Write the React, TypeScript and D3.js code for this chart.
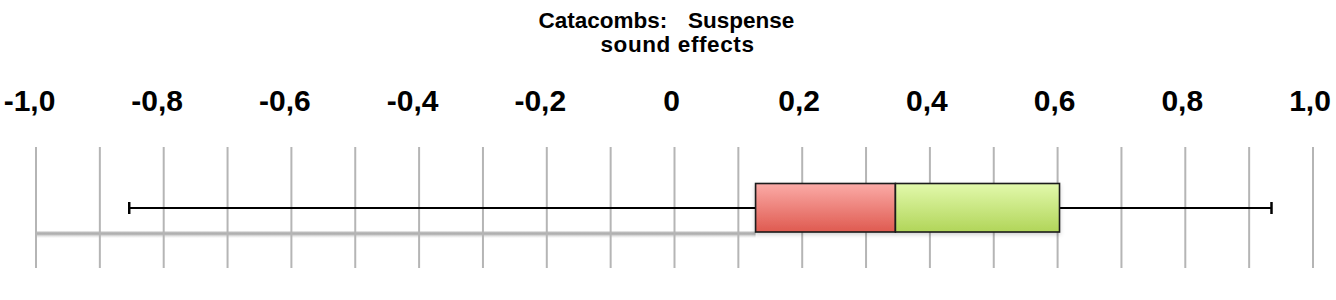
import React from "react";
import * as d3 from "d3";

const titleLine1 = ["Catacombs:", "Suspense"];
const titleLine2 = "sound effects";
const gridValues = d3.range(-10, 11).map((i) => i / 10);
const labelValues = [-1, -0.8, -0.6, -0.4, -0.2, 0, 0.2, 0.4, 0.6, 0.8, 1];
const labelTexts = ["-1,0", "-0,8", "-0,6", "-0,4", "-0,2", "0", "0,2", "0,4", "0,6", "0,8", "1,0"];
const boxStats = { min: -0.854, q1: 0.127, median: 0.346, q3: 0.603, max: 0.935 };

const W = 1336;
const H = 300;

export default function App() {
  const x = d3.scaleLinear().domain([-1, 1]).range([36, 1313]);
  const yMid = 208;
  const boxTop = 183.5;
  const boxBot = 232;
  const font = "'Liberation Sans', Arial, Helvetica, sans-serif";
  return (
    <svg width={W} height={H} style={{ position: "absolute", left: 0, top: 0 }}>
      <defs>
        <linearGradient id="redG" x1="0" y1="0" x2="0" y2="1">
          <stop offset="0" stopColor="#fbaba7" />
          <stop offset="1" stopColor="#df5a50" />
        </linearGradient>
        <linearGradient id="greenG" x1="0" y1="0" x2="0" y2="1">
          <stop offset="0" stopColor="#e2f9ac" />
          <stop offset="1" stopColor="#b1d559" />
        </linearGradient>
        <linearGradient id="shadowG" x1="0" y1="0" x2="0" y2="1">
          <stop offset="0" stopColor="#bbb" stopOpacity="0" />
          <stop offset="0.25" stopColor="#b3b3b3" stopOpacity="0.9" />
          <stop offset="0.45" stopColor="#aaa" stopOpacity="1" />
          <stop offset="0.65" stopColor="#ccc" stopOpacity="0.7" />
          <stop offset="1" stopColor="#eee" stopOpacity="0" />
        </linearGradient>
        <filter id="boxShadow" x="-5%" y="-20%" width="110%" height="150%">
          <feDropShadow dx="0" dy="2" stdDeviation="2" floodColor="#000" floodOpacity="0.18" />
        </filter>
      </defs>
      <g fontFamily={font} fontWeight="bold" fill="#000">
        <text y={27.5} fontSize={22.5}>
          <tspan x={538.5}>{titleLine1[0]}</tspan>
          <tspan x={688}>{titleLine1[1]}</tspan>
        </text>
        <text x={677.5} y={51.5} textAnchor="middle" fontSize={22.5} letterSpacing={0.6}>
          {titleLine2}
        </text>
        {labelValues.map((v, i) => (
          <text
            key={i}
            x={x(v) + (v < 0 ? -6.5 : -3)}
            y={110.5}
            textAnchor="middle"
            fontSize={30}
          >
            {labelTexts[i]}
          </text>
        ))}
      </g>
      <rect
        x={x(-1)}
        y={230.5}
        width={x(boxStats.q1) - x(-1)}
        height={8}
        fill="url(#shadowG)"
      />
      {gridValues.map((v, i) => (
        <line key={i} x1={x(v)} x2={x(v)} y1={147} y2={268} stroke="#b5b5b5" strokeWidth={2} />
      ))}
      <line x1={x(boxStats.min)} x2={x(boxStats.max)} y1={yMid} y2={yMid} stroke="#000" strokeWidth={2.2} />
      <line x1={x(boxStats.min)} x2={x(boxStats.min)} y1={202} y2={214} stroke="#000" strokeWidth={2.5} />
      <line x1={x(boxStats.max)} x2={x(boxStats.max)} y1={202} y2={214} stroke="#000" strokeWidth={2.5} />
      <g filter="url(#boxShadow)">
        <rect
          x={x(boxStats.q1)}
          y={boxTop}
          width={x(boxStats.median) - x(boxStats.q1)}
          height={boxBot - boxTop}
          fill="url(#redG)"
          stroke="#1a1a1a"
          strokeWidth={1.6}
        />
        <rect
          x={x(boxStats.median)}
          y={boxTop}
          width={x(boxStats.q3) - x(boxStats.median)}
          height={boxBot - boxTop}
          fill="url(#greenG)"
          stroke="#1a1a1a"
          strokeWidth={1.6}
        />
      </g>
    </svg>
  );
}
